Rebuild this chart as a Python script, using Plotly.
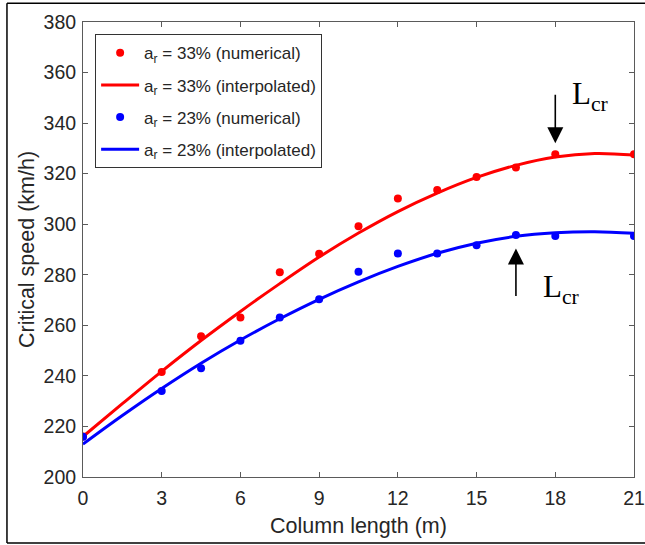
import plotly.graph_objects as go

# Column length (m) at which the critical speed was computed
length_m = [0, 3, 4.5, 6, 7.5, 9, 10.5, 12, 13.5, 15, 16.5, 18, 21]

# Numerical critical speeds (km/h)
speed_33_num = [216.0, 241.5, 255.7, 263.1, 281.0, 288.3, 299.2, 310.2, 313.5, 318.7, 322.4, 327.7, 327.7]
speed_23_num = [215.9, 234.0, 243.0, 253.9, 263.1, 270.3, 281.2, 288.4, 288.4, 291.7, 295.7, 295.3, 295.3]

# Interpolated curves, sampled every 1.5 m
curve_len = [0, 1.5, 3, 4.5, 6, 7.5, 9, 10.5, 12, 13.5, 15, 16.5, 18, 19.5, 21]
speed_33_fit = [216.0, 229.0, 241.8, 254.0, 265.5, 276.5, 287.0, 296.5, 305.0, 312.3, 318.5, 323.3, 326.6, 328.0, 327.4]
speed_23_fit = [213.0, 224.3, 235.0, 245.0, 254.2, 262.6, 270.3, 277.2, 283.3, 288.5, 292.5, 295.2, 296.6, 297.0, 296.4]

# Critical-length markers: (x, arrow tip, arrow tail)
lcr_33 = (18, 332.0, 351.8)
lcr_23 = (16.5, 290.4, 271.0)

x_ticks = [0, 3, 6, 9, 12, 15, 18, 21]
y_ticks = [200, 220, 240, 260, 280, 300, 320, 340, 360, 380]

RED = "#ff0000"
BLUE = "#0000ff"
AXIS = "#5a5a5a"
TEXT = "#262626"
SANS = "Liberation Sans, Arial, sans-serif"

fig = go.Figure()

fig.add_trace(go.Scatter(
    x=curve_len, y=speed_33_fit, mode="lines", line=dict(color=RED, width=3, shape="spline"),
    name="a<sub>r</sub> = 33% (interpolated)", legendgroup="b", legendrank=2,
))
fig.add_trace(go.Scatter(
    x=curve_len, y=speed_23_fit, mode="lines", line=dict(color=BLUE, width=3, shape="spline"),
    name="a<sub>r</sub> = 23% (interpolated)", legendgroup="d", legendrank=4,
))
fig.add_trace(go.Scatter(
    x=length_m, y=speed_33_num, mode="markers", marker=dict(color=RED, size=8),
    name="a<sub>r</sub> = 33% (numerical)", legendgroup="a", legendrank=1,
))
fig.add_trace(go.Scatter(
    x=length_m, y=speed_23_num, mode="markers", marker=dict(color=BLUE, size=8),
    name="a<sub>r</sub> = 23% (numerical)", legendgroup="c", legendrank=3,
))

# Arrows pointing at the critical length
for xv, tip, tail in (lcr_33, lcr_23):
    fig.add_annotation(
        x=xv, y=tip, ax=xv, ay=tail, xref="x", yref="y", axref="x", ayref="y",
        text="", showarrow=True, arrowhead=2, arrowsize=2.0, arrowwidth=1.6, arrowcolor="black",
    )

lcr_font = dict(family="Liberation Serif, Times New Roman, serif", size=31, color="black")
fig.add_annotation(x=18.55, y=350.6, xref="x", yref="y", text="L<sub>cr</sub>", showarrow=False,
                   xanchor="left", yanchor="middle", font=lcr_font)
fig.add_annotation(x=17.45, y=274.4, xref="x", yref="y", text="L<sub>cr</sub>", showarrow=False,
                   xanchor="left", yanchor="middle", font=lcr_font)

# Outer frame around the figure
frame = dict(type="line", xref="paper", yref="paper", line=dict(color="black", width=1.5))
fig.add_shape(**frame, x0=-0.138, x1=1.1, y0=1.041, y1=1.041)
fig.add_shape(**frame, x0=-0.138, x1=-0.138, y0=1.041, y1=-0.145)
fig.add_shape(**frame, x0=-0.138, x1=1.1, y0=-0.145, y1=-0.145)

axis_common = dict(
    showgrid=False, zeroline=False, showline=True, linecolor=AXIS, linewidth=1,
    mirror="ticks", ticks="inside", ticklen=5, tickcolor=AXIS, tickwidth=1,
    tickfont=dict(family=SANS, size=19.5, color=TEXT), automargin=False,
)

fig.update_layout(
    width=645, height=545,
    margin=dict(l=83, r=11, t=22, b=68, autoexpand=False),
    paper_bgcolor="white", plot_bgcolor="white",
    showlegend=True,
    legend=dict(
        x=0.022, y=0.973, xanchor="left", yanchor="top",
        bgcolor="white", bordercolor="#333333", borderwidth=1,
        font=dict(family=SANS, size=17, color=TEXT),
        tracegroupgap=7, traceorder="grouped", itemwidth=38,
    ),
    xaxis=dict(**axis_common, range=[0, 21], tickvals=x_ticks, ticklabelstandoff=4,
               title=dict(text="Column length (m)", standoff=9,
                          font=dict(family=SANS, size=21.5, color=TEXT))),
    yaxis=dict(**axis_common, range=[200, 380], tickvals=y_ticks, ticklabelstandoff=2,
               title=dict(text="Critical speed (km/h)", standoff=3,
                          font=dict(family=SANS, size=21.5, color=TEXT))),
)

fig.write_html("out.html")
